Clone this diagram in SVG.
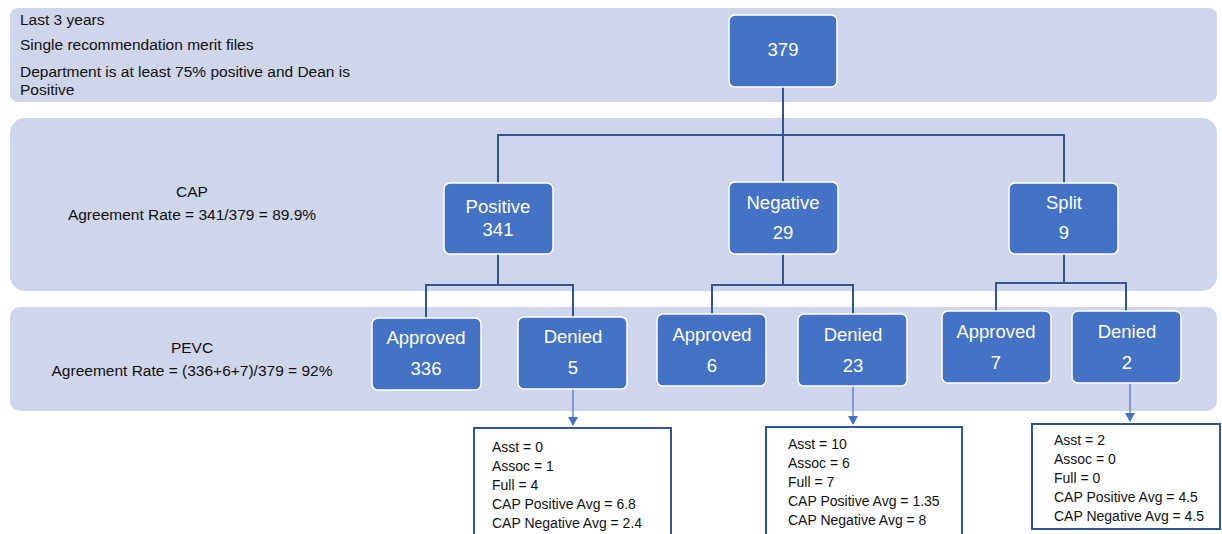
<svg xmlns="http://www.w3.org/2000/svg" width="1222" height="534" viewBox="0 0 1222 534">
<defs>
<style>
.band{fill:#CFD5EA;}
.node rect{fill:#4472C4;stroke:#FFFFFF;stroke-width:1.5;}
.node text{fill:#FFFFFF;font-family:"Liberation Sans",Arial,sans-serif;font-size:18.5px;text-anchor:middle;}
.lbl{fill:#111111;font-family:"Liberation Sans",Arial,sans-serif;font-size:15.5px;}
.mid{text-anchor:middle;}
.conn{fill:none;stroke:#2F5597;stroke-width:2;}
.arr{fill:none;stroke:#4472C4;stroke-width:1.2;}
.info rect{fill:#FFFFFF;stroke:#2F5597;stroke-width:2;}
.info text{fill:#111111;font-family:"Liberation Sans",Arial,sans-serif;font-size:14px;}
</style>
<marker id="ah" markerWidth="10" markerHeight="10" refX="8" refY="5" orient="auto" markerUnits="userSpaceOnUse">
<path d="M0,0 L9,5 L0,10 Z" fill="#4472C4"/>
</marker>
</defs>
<rect width="1222" height="534" fill="#FFFFFF"/>
<g id="bands">
<rect class="band" x="10" y="8" width="1207" height="94" rx="8"/>
<rect class="band" x="10" y="118" width="1207" height="173" rx="15"/>
<rect class="band" x="10" y="307" width="1207" height="104" rx="10"/>
</g>
<g id="labels">
<text class="lbl" x="20" y="25">Last 3 years</text>
<text class="lbl" x="20" y="50">Single recommendation merit files</text>
<text class="lbl" x="20" y="77">Department is at least 75% positive and Dean is</text>
<text class="lbl" x="20" y="95">Positive</text>
<text class="lbl mid" x="192" y="197">CAP</text>
<text class="lbl mid" x="192" y="220">Agreement Rate = 341/379 = 89.9%</text>
<text class="lbl mid" x="192" y="353">PEVC</text>
<text class="lbl mid" x="192" y="376">Agreement Rate = (336+6+7)/379 = 92%</text>
</g>
<g id="connectors">
<path class="conn" d="M783,87 V135 M498,183 V135 H1064 V183 M783,135 V182"/>
<path class="conn" d="M498,254 V285 M426,318 V285 H573 V317"/>
<path class="conn" d="M783,254 V285 M712,314 V285 H853 V314"/>
<path class="conn" d="M1064,254 V283 M996,311 V283 H1126 V311"/>
<path class="arr" d="M573,389 V425" marker-end="url(#ah)"/>
<path class="arr" d="M853,386 V424" marker-end="url(#ah)"/>
<path class="arr" d="M1130,383 V421" marker-end="url(#ah)"/>
</g>
<g id="n379" class="node"><rect x="729" y="15" width="108" height="72" rx="6"/><text x="783" y="56">379</text></g>
<g id="nPositive" class="node"><rect x="444" y="183" width="109" height="71" rx="6"/><text x="498" y="213">Positive</text><text x="498" y="236">341</text></g>
<g id="nNegative" class="node"><rect x="729" y="182" width="109" height="72" rx="6"/><text x="783" y="209">Negative</text><text x="783" y="239">29</text></g>
<g id="nSplit" class="node"><rect x="1009" y="183" width="109" height="71" rx="6"/><text x="1064" y="209">Split</text><text x="1064" y="239">9</text></g>
<g id="nApproved336" class="node"><rect x="372" y="318" width="109" height="72" rx="6"/><text x="426" y="344">Approved</text><text x="426" y="375">336</text></g>
<g id="nDenied5" class="node"><rect x="518" y="317" width="109" height="72" rx="6"/><text x="573" y="343">Denied</text><text x="573" y="374">5</text></g>
<g id="nApproved6" class="node"><rect x="657" y="314" width="109" height="72" rx="6"/><text x="712" y="341">Approved</text><text x="712" y="372">6</text></g>
<g id="nDenied23" class="node"><rect x="798" y="314" width="109" height="72" rx="6"/><text x="853" y="341">Denied</text><text x="853" y="372">23</text></g>
<g id="nApproved7" class="node"><rect x="942" y="311" width="109" height="72" rx="6"/><text x="996" y="338">Approved</text><text x="996" y="369">7</text></g>
<g id="nDenied2" class="node"><rect x="1072" y="311" width="109" height="72" rx="6"/><text x="1127" y="338">Denied</text><text x="1127" y="369">2</text></g>
<g id="info5" class="info"><rect x="474" y="428" width="197" height="112"/>
<text x="492" y="452">Asst = 0</text><text x="492" y="471">Assoc = 1</text><text x="492" y="490">Full = 4</text><text x="492" y="509">CAP Positive Avg = 6.8</text><text x="492" y="528">CAP Negative Avg = 2.4</text></g>
<g id="info23" class="info"><rect x="766" y="427" width="196" height="113"/>
<text x="788" y="449">Asst = 10</text><text x="788" y="468">Assoc = 6</text><text x="788" y="487">Full = 7</text><text x="788" y="506">CAP Positive Avg = 1.35</text><text x="788" y="525">CAP Negative Avg = 8</text></g>
<g id="info2" class="info"><rect x="1032" y="424" width="188" height="105"/>
<text x="1054" y="445">Asst = 2</text><text x="1054" y="464">Assoc = 0</text><text x="1054" y="483">Full = 0</text><text x="1054" y="502">CAP Positive Avg = 4.5</text><text x="1054" y="521">CAP Negative Avg = 4.5</text></g>
</svg>
